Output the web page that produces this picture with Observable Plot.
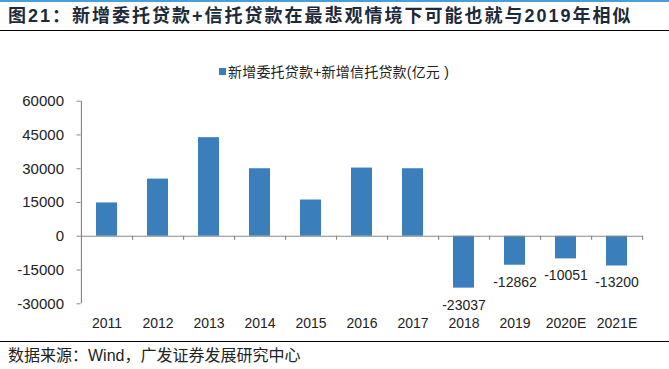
<!DOCTYPE html>
<html>
<head>
<meta charset="utf-8">
<script src="https://cdn.jsdelivr.net/npm/d3@7"></script>
<script src="https://cdn.jsdelivr.net/npm/@observablehq/plot@0.6"></script>
<style>
  html, body { margin: 0; padding: 0; background: #fff; }
  #wrap { position: relative; width: 669px; height: 369px; overflow: hidden; font-family: "Liberation Sans", Arial, "Noto Sans CJK SC", sans-serif; }
  #topline { position: absolute; left: 0; top: 0; width: 669px; height: 2px; background: #4a9fd8; }
  #title { position: absolute; left: 8px; top: 5px; font-size: 18px; line-height: 22px; font-weight: bold; color: #1c2a3a; letter-spacing: 2px; white-space: nowrap; }
  #titleline { position: absolute; left: 0; top: 30px; width: 669px; height: 1px; background: #000; }
  #legend { position: absolute; left: 219px; top: 61px; height: 20px; display: flex; align-items: center; white-space: nowrap; }
  #legend .sw { width: 7px; height: 7px; background: #3a7fbc; margin-right: 2px; }
  #legend .lt { font-size: 14px; color: #222; letter-spacing: 0.2px; }
  #chart { position: absolute; left: 0; top: 90px; }
  #footline { position: absolute; left: 0; top: 341px; width: 669px; height: 1px; background: #000; }
  #source { position: absolute; left: 8px; top: 346px; font-size: 16px; line-height: 20px; color: #222; white-space: nowrap; }
</style>
</head>
<body>
<div id="wrap">
  <div id="topline"></div>
  <div id="title">图21：新增委托贷款+信托贷款在最悲观情境下可能也就与2019年相似</div>
  <div id="titleline"></div>
  <div id="legend"><div class="sw"></div><div class="lt">新增委托贷款+新增信托贷款(亿元 )</div></div>
  <div id="chart"></div>
  <div id="footline"></div>
  <div id="source">数据来源：Wind，广发证券发展研究中心</div>
</div>
<script>
const years = ["2011", "2012", "2013", "2014", "2015", "2016", "2017", "2018", "2019", "2020E", "2021E"];
const values = [14800, 25400, 43800, 30000, 16100, 30300, 30000, -23037, -12862, -10051, -13200];
const labeledYears = ["2018", "2019", "2020E", "2021E"];
const yTicks = [-30000, -15000, 0, 15000, 30000, 45000, 60000];

const data = years.map((year, i) => ({year, value: values[i]}));

const W = 669, H = 250;
const mL = 80.5, mR = 26, mT = 10.7, mB = 36.7;
const bw = (W - mL - mR) / years.length;
const barColor = "#3a7fbc";
const axisColor = "#8a8a8a";

const chart = Plot.plot({
  width: W,
  height: H,
  marginLeft: mL,
  marginRight: mR,
  marginTop: mT,
  marginBottom: mB,
  style: {fontFamily: "'Liberation Sans', Arial, sans-serif", color: "#222", background: "transparent"},
  x: {domain: years, padding: 0, axis: null, label: null},
  y: {domain: [-30000, 60000], axis: null, label: null},
  marks: [
    Plot.barY(data, {x: "year", y: "value", fill: barColor, insetLeft: 15, insetRight: 15}),
    Plot.ruleY([0], {stroke: axisColor, strokeWidth: 1.2}),
    Plot.ruleX(years, {x: d => d, y1: 0, y2: 0, insetBottom: -4, dx: bw / 2, stroke: axisColor, strokeWidth: 1.2}),
    Plot.ruleX([years[0]], {x: d => d, y1: -30000, y2: 60000, dx: -bw / 2, stroke: axisColor, strokeWidth: 1.2}),
    Plot.axisY({ticks: yTicks, tickSize: 4, tickPadding: 13, fontSize: 15, stroke: axisColor, tickFormat: d => String(d), anchor: "left", label: null}),
    Plot.axisX({tickSize: 0, tickPadding: 14, fontSize: 14, anchor: "bottom", label: null}),
    Plot.text(data.filter(d => labeledYears.includes(d.year)), {x: "year", y: "value", text: d => String(d.value), dy: 17, fontSize: 14, lineAnchor: "middle", fill: "#222"})
  ]
});
document.getElementById("chart").appendChild(chart);
</script>
</body>
</html>
